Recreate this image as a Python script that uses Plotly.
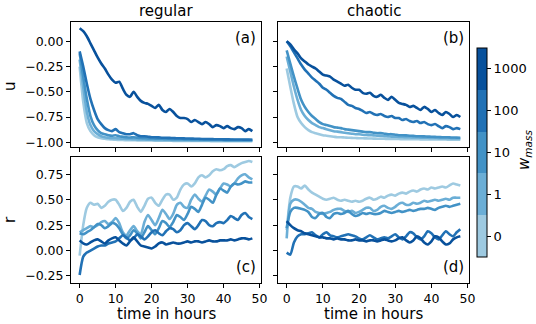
import plotly.graph_objects as go
from plotly.subplots import make_subplots

# time axis (hours) and the five w_mass settings
hours = list(range(49))
w_labels = ['0', '1', '10', '100', '1000']
colors = ['#9ecae1', '#6baed6', '#4292c6', '#2171b5', '#08519c']

# (a) regular, u
a_w0 = [-0.25,-0.60,-0.81,-0.89,-0.93,-0.95,-0.96,-0.965,-0.97,-0.972,-0.975,-0.977,-0.978,-0.979,-0.98,-0.98,-0.981,-0.982,-0.982,-0.983,-0.983,-0.984,-0.984,-0.985,-0.985,-0.985,-0.986,-0.986,-0.986,-0.987,-0.987,-0.987,-0.987,-0.988,-0.988,-0.988,-0.988,-0.989,-0.989,-0.989,-0.989,-0.989,-0.99,-0.99,-0.99,-0.99,-0.99,-0.99,-0.99]
a_w1 = [-0.18,-0.45,-0.70,-0.83,-0.89,-0.92,-0.94,-0.95,-0.955,-0.96,-0.96,-0.963,-0.965,-0.967,-0.968,-0.97,-0.971,-0.972,-0.973,-0.974,-0.975,-0.976,-0.977,-0.977,-0.978,-0.978,-0.979,-0.979,-0.98,-0.98,-0.98,-0.981,-0.981,-0.981,-0.982,-0.982,-0.982,-0.983,-0.983,-0.983,-0.983,-0.984,-0.984,-0.984,-0.984,-0.985,-0.985,-0.985,-0.985]
a_w10 = [-0.12,-0.35,-0.57,-0.74,-0.83,-0.88,-0.91,-0.92,-0.93,-0.935,-0.93,-0.94,-0.945,-0.95,-0.953,-0.95,-0.955,-0.958,-0.96,-0.962,-0.963,-0.964,-0.965,-0.966,-0.967,-0.968,-0.969,-0.97,-0.97,-0.971,-0.971,-0.972,-0.972,-0.973,-0.973,-0.974,-0.974,-0.975,-0.975,-0.975,-0.976,-0.976,-0.976,-0.977,-0.977,-0.977,-0.978,-0.978,-0.978]
a_w100 = [-0.10,-0.25,-0.42,-0.57,-0.68,-0.77,-0.82,-0.86,-0.88,-0.89,-0.87,-0.90,-0.91,-0.92,-0.92,-0.91,-0.93,-0.94,-0.94,-0.945,-0.95,-0.95,-0.952,-0.955,-0.955,-0.957,-0.958,-0.96,-0.96,-0.962,-0.963,-0.964,-0.965,-0.966,-0.967,-0.967,-0.968,-0.969,-0.97,-0.97,-0.971,-0.971,-0.972,-0.972,-0.973,-0.973,-0.974,-0.974,-0.975]
a_w1000 = [0.13,0.10,0.05,-0.02,-0.09,-0.16,-0.22,-0.27,-0.33,-0.38,-0.41,-0.40,-0.47,-0.53,-0.55,-0.50,-0.55,-0.59,-0.61,-0.62,-0.64,-0.66,-0.63,-0.68,-0.70,-0.67,-0.70,-0.74,-0.76,-0.76,-0.77,-0.80,-0.78,-0.80,-0.82,-0.80,-0.82,-0.85,-0.83,-0.84,-0.86,-0.84,-0.86,-0.87,-0.85,-0.86,-0.89,-0.87,-0.89]

# (b) chaotic, u
b_w0 = [-0.27,-0.45,-0.62,-0.75,-0.81,-0.85,-0.88,-0.90,-0.91,-0.92,-0.93,-0.935,-0.94,-0.945,-0.95,-0.95,-0.953,-0.955,-0.957,-0.958,-0.96,-0.96,-0.962,-0.963,-0.964,-0.965,-0.965,-0.966,-0.967,-0.967,-0.968,-0.968,-0.969,-0.969,-0.97,-0.97,-0.97,-0.971,-0.971,-0.972,-0.972,-0.972,-0.973,-0.973,-0.973,-0.974,-0.974,-0.975,-0.975]
b_w1 = [-0.15,-0.30,-0.45,-0.58,-0.68,-0.74,-0.78,-0.81,-0.83,-0.85,-0.86,-0.87,-0.88,-0.89,-0.895,-0.90,-0.905,-0.91,-0.915,-0.92,-0.92,-0.925,-0.928,-0.93,-0.932,-0.935,-0.937,-0.94,-0.942,-0.944,-0.945,-0.947,-0.948,-0.95,-0.951,-0.952,-0.953,-0.954,-0.955,-0.956,-0.957,-0.958,-0.959,-0.96,-0.96,-0.961,-0.962,-0.963,-0.963]
b_w10 = [-0.09,-0.22,-0.35,-0.47,-0.58,-0.65,-0.70,-0.74,-0.77,-0.80,-0.82,-0.83,-0.84,-0.85,-0.855,-0.86,-0.87,-0.875,-0.88,-0.885,-0.89,-0.895,-0.90,-0.90,-0.905,-0.91,-0.91,-0.915,-0.92,-0.92,-0.925,-0.93,-0.93,-0.932,-0.935,-0.937,-0.94,-0.94,-0.942,-0.944,-0.945,-0.947,-0.948,-0.95,-0.95,-0.952,-0.953,-0.954,-0.955]
b_w100 = [0.00,-0.05,-0.11,-0.17,-0.23,-0.28,-0.32,-0.36,-0.39,-0.42,-0.46,-0.48,-0.51,-0.54,-0.56,-0.57,-0.60,-0.63,-0.64,-0.66,-0.67,-0.69,-0.71,-0.70,-0.72,-0.73,-0.72,-0.74,-0.75,-0.74,-0.76,-0.76,-0.78,-0.77,-0.79,-0.80,-0.79,-0.81,-0.80,-0.82,-0.83,-0.82,-0.84,-0.86,-0.84,-0.85,-0.87,-0.86,-0.87]
b_w1000 = [0.00,-0.03,-0.08,-0.12,-0.17,-0.20,-0.23,-0.25,-0.27,-0.30,-0.33,-0.34,-0.35,-0.38,-0.40,-0.42,-0.44,-0.43,-0.46,-0.48,-0.48,-0.51,-0.52,-0.51,-0.54,-0.55,-0.53,-0.56,-0.58,-0.55,-0.58,-0.61,-0.62,-0.63,-0.65,-0.64,-0.66,-0.68,-0.65,-0.67,-0.70,-0.68,-0.71,-0.73,-0.70,-0.72,-0.75,-0.73,-0.75]

# (c) regular, r
c_w0 = [-0.05,0.25,0.42,0.47,0.45,0.46,0.42,0.44,0.48,0.50,0.50,0.45,0.39,0.42,0.48,0.50,0.43,0.38,0.44,0.51,0.52,0.47,0.44,0.50,0.55,0.55,0.50,0.52,0.60,0.65,0.66,0.63,0.66,0.72,0.74,0.72,0.74,0.78,0.80,0.79,0.80,0.83,0.84,0.82,0.84,0.86,0.87,0.88,0.87]
c_w1 = [0.18,0.20,0.22,0.24,0.23,0.25,0.28,0.29,0.26,0.28,0.32,0.27,0.18,0.15,0.20,0.24,0.19,0.16,0.28,0.35,0.30,0.25,0.32,0.40,0.36,0.31,0.36,0.45,0.47,0.43,0.42,0.50,0.55,0.51,0.48,0.54,0.60,0.58,0.55,0.61,0.66,0.65,0.63,0.66,0.71,0.74,0.75,0.72,0.70]
c_w10 = [0.17,0.16,0.18,0.20,0.23,0.26,0.25,0.22,0.24,0.27,0.26,0.22,0.16,0.12,0.15,0.20,0.17,0.12,0.18,0.24,0.20,0.16,0.22,0.29,0.27,0.23,0.28,0.35,0.33,0.30,0.36,0.43,0.41,0.38,0.45,0.52,0.50,0.47,0.55,0.61,0.59,0.57,0.63,0.66,0.65,0.66,0.68,0.67,0.67]
c_w100 = [-0.24,-0.06,-0.02,0.00,0.02,0.04,0.05,0.05,0.07,0.08,0.09,0.12,0.15,0.13,0.10,0.12,0.16,0.14,0.11,0.14,0.18,0.20,0.17,0.15,0.19,0.22,0.21,0.18,0.20,0.25,0.27,0.24,0.21,0.25,0.30,0.29,0.25,0.24,0.27,0.28,0.27,0.30,0.34,0.32,0.30,0.35,0.37,0.33,0.31]
c_w1000 = [0.10,0.07,0.06,0.08,0.10,0.11,0.09,0.07,0.10,0.12,0.13,0.10,0.07,0.05,0.09,0.13,0.09,0.05,0.04,0.03,0.02,0.04,0.07,0.08,0.06,0.07,0.08,0.07,0.07,0.08,0.09,0.08,0.09,0.09,0.08,0.09,0.10,0.09,0.09,0.10,0.10,0.10,0.11,0.10,0.11,0.12,0.12,0.11,0.12]

# (d) chaotic, r
d_w0 = [0.20,0.52,0.63,0.63,0.61,0.64,0.60,0.57,0.55,0.53,0.51,0.50,0.51,0.52,0.50,0.49,0.50,0.49,0.48,0.49,0.48,0.49,0.51,0.52,0.50,0.51,0.53,0.52,0.54,0.55,0.54,0.56,0.57,0.56,0.58,0.59,0.58,0.60,0.61,0.60,0.62,0.61,0.62,0.63,0.62,0.64,0.66,0.65,0.64]
d_w1 = [0.12,0.46,0.50,0.50,0.48,0.45,0.42,0.41,0.38,0.37,0.36,0.37,0.38,0.40,0.41,0.41,0.39,0.38,0.39,0.37,0.38,0.40,0.42,0.42,0.39,0.40,0.43,0.44,0.42,0.41,0.43,0.46,0.47,0.45,0.45,0.47,0.46,0.47,0.49,0.48,0.49,0.50,0.49,0.50,0.51,0.50,0.52,0.52,0.52]
d_w10 = [0.22,0.38,0.42,0.42,0.41,0.40,0.38,0.33,0.32,0.36,0.37,0.33,0.32,0.36,0.37,0.36,0.37,0.39,0.36,0.34,0.35,0.37,0.36,0.37,0.36,0.36,0.37,0.39,0.38,0.37,0.38,0.39,0.38,0.39,0.40,0.39,0.40,0.41,0.41,0.42,0.41,0.40,0.42,0.43,0.44,0.43,0.44,0.45,0.46]
d_w100 = [-0.02,-0.04,0.08,0.14,0.16,0.16,0.17,0.18,0.15,0.13,0.16,0.18,0.15,0.14,0.13,0.14,0.15,0.16,0.15,0.14,0.12,0.11,0.13,0.15,0.13,0.11,0.12,0.13,0.12,0.14,0.16,0.13,0.11,0.14,0.18,0.17,0.13,0.11,0.14,0.19,0.17,0.13,0.11,0.15,0.19,0.16,0.14,0.18,0.21]
d_w1000 = [0.29,0.25,0.22,0.20,0.19,0.17,0.16,0.15,0.14,0.13,0.13,0.12,0.12,0.11,0.12,0.11,0.11,0.10,0.10,0.11,0.10,0.10,0.09,0.10,0.10,0.09,0.10,0.11,0.10,0.09,0.10,0.12,0.13,0.10,0.08,0.10,0.14,0.12,0.08,0.06,0.09,0.14,0.13,0.09,0.06,0.07,0.11,0.13,0.14]

panels = {
    (1, 1): [a_w0, a_w1, a_w10, a_w100, a_w1000],
    (1, 2): [b_w0, b_w1, b_w10, b_w100, b_w1000],
    (2, 1): [c_w0, c_w1, c_w10, c_w100, c_w1000],
    (2, 2): [d_w0, d_w1, d_w10, d_w100, d_w1000],
}

W, H = 536, 324
FONT = 'DejaVu Sans'

fig = make_subplots(rows=2, cols=2, shared_xaxes=True, shared_yaxes=True)

for (row, col), series in panels.items():
    for vals, c in zip(series, colors):
        fig.add_trace(go.Scatter(x=hours, y=vals, mode='lines', line=dict(color=c, width=2.6, shape='spline', smoothing=0.6),
                                 showlegend=False, hoverinfo='skip'), row=row, col=col)

# discrete colorbar (title added as an annotation so the bar doesn't push margins)
cs = []
for i, c in enumerate(colors):
    cs += [[i / 5, c], [(i + 1) / 5, c]]
fig.add_trace(go.Scatter(x=[None], y=[None], mode='markers', showlegend=False,
                         marker=dict(color=[0], colorscale=cs, cmin=-0.5, cmax=4.5, showscale=True,
                                     colorbar=dict(thickness=10, thicknessmode='pixels', len=209, lenmode='pixels',
                                                   x=477 / W, xanchor='left', y=1 - 152.5 / H, yanchor='middle',
                                                   xpad=0, ypad=0, outlinewidth=1, outlinecolor='black',
                                                   ticks='outside', ticklen=4, tickcolor='black',
                                                   tickvals=[0, 1, 2, 3, 4], ticktext=w_labels,
                                                   tickfont=dict(size=13, color='black')))),
              row=1, col=1)

xdom = [[71 / W, 261 / W], [278 / W, 469 / W]]
ydom = [[1 - 146.7 / H, 1 - 21.7 / H], [1 - 282.7 / H, 1 - 156.7 / H]]
yranges = [[-1.044, 0.194], [-0.316, 0.923]]
ytv = [[0, -0.25, -0.5, -0.75, -1.0], [0.75, 0.5, 0.25, 0, -0.25]]
ytt = [['0.00', '−0.25', '−0.50', '−0.75', '−1.00'], ['0.75', '0.50', '0.25', '0.00', '−0.25']]

axstyle = dict(showline=True, mirror=True, linecolor='black', linewidth=1, showgrid=False, zeroline=False,
               ticks='outside', ticklen=4, tickcolor='black', tickfont=dict(size=12.5, color='black'),
               automargin=False)

for r in (1, 2):
    for c in (1, 2):
        fig.update_xaxes(domain=xdom[c - 1], range=[-2.4, 50.4], tickvals=[0, 10, 20, 30, 40, 50],
                         showticklabels=(r == 2), row=r, col=c, **axstyle)
        fig.update_yaxes(domain=ydom[r - 1], range=yranges[r - 1], tickvals=ytv[r - 1], ticktext=ytt[r - 1],
                         showticklabels=(c == 1), row=r, col=c, **axstyle)

ann = []
big = dict(size=15, color='black', family=FONT)
def label(text, x, y, **kw):
    ann.append(dict(text=text, x=x / W, y=1 - y / H, xref='paper', yref='paper', xanchor='center',
                    yanchor='middle', showarrow=False, font=big, **kw))

label('regular', 166, 11)
label('chaotic', 373.5, 11)
label('u', 10, 86, textangle=-90)
label('r', 10, 220, textangle=-90)
label('time in hours', 166, 314)
label('time in hours', 373.5, 314)
label('<i>w</i><sub><i>mass</i></sub>', 524, 150, textangle=-90)
for lab, xr, yr, yy in [('(a)', 'x domain', 'y domain', 0.87), ('(b)', 'x2 domain', 'y2 domain', 0.87),
                        ('(c)', 'x3 domain', 'y3 domain', 0.125), ('(d)', 'x4 domain', 'y4 domain', 0.125)]:
    ann.append(dict(text=lab, x=0.985, y=yy, xref=xr, yref=yr, xanchor='right', yanchor='middle',
                    showarrow=False, font=big))

fig.update_layout(width=W, height=H, margin=dict(l=0, r=0, t=0, b=0, autoexpand=False),
                  plot_bgcolor='white', paper_bgcolor='white',
                  font=dict(family=FONT, color='black'), annotations=ann)

# the page body has a default 8px margin; drop it so the figure sits at the window's corner
fig.write_html("out.html", config={'displayModeBar': False},
               post_script="document.body.style.margin='0';")
